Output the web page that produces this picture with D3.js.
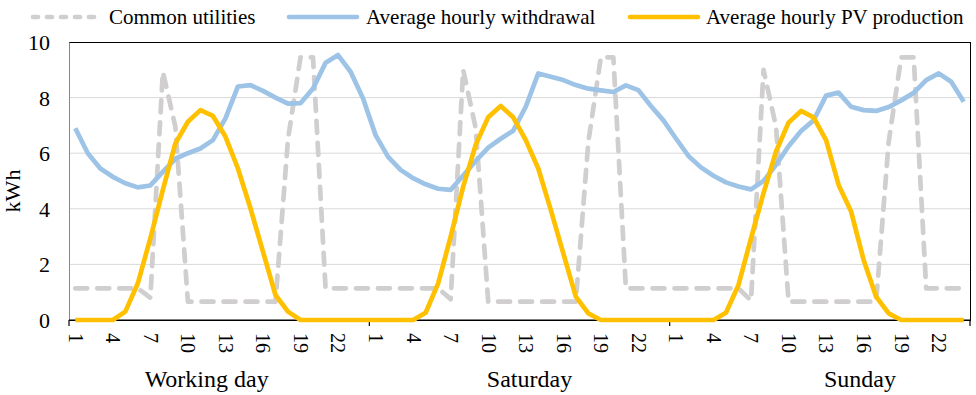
<!DOCTYPE html>
<html>
<head>
<meta charset="utf-8">
<script src="https://cdn.jsdelivr.net/npm/d3@7"></script>
<style>
  body { margin: 0; background: #fff; }
  svg { display: block; }
  text { font-family: "Liberation Serif", "Times New Roman", serif; fill: #000; }
</style>
</head>
<body>
<div id="chart"></div>
<script>
// categories
const days = ['Working day', 'Saturday', 'Sunday'];
const hours = [1, 2, 3, 4, 5, 6, 7, 8, 9, 10, 11, 12, 13, 14, 15, 16, 17, 18, 19, 20, 21, 22, 23, 24];
const tickHours = [1, 4, 7, 10, 13, 16, 19, 22];
const yTicks = [0, 2, 4, 6, 8, 10];

// series values (kWh), 24 per day
const commonUtilities = [
    1.14, 1.14, 1.14, 1.14, 1.14, 1.14, 0.8, 8.93, 6.95, 0.66, 0.66, 0.66,
    0.66, 0.66, 0.66, 0.66, 0.66, 6.5, 9.45, 9.45, 1.14, 1.14, 1.14, 1.14,
    1.14, 1.14, 1.14, 1.14, 1.14, 1.14, 0.75, 9.0, 6.9, 0.66, 0.66, 0.66,
    0.66, 0.66, 0.66, 0.66, 0.66, 6.4, 9.45, 9.45, 1.14, 1.14, 1.14, 1.14,
    1.14, 1.14, 1.14, 1.14, 1.14, 1.14, 0.7, 9.0, 6.95, 0.66, 0.66, 0.66,
    0.66, 0.66, 0.66, 0.66, 0.66, 6.4, 9.45, 9.45, 1.14, 1.14, 1.14, 1.14
];
const withdrawal = [
    6.9, 6.0, 5.45, 5.15, 4.92, 4.77, 4.84, 5.33, 5.8, 6.0, 6.17, 6.47,
    7.25, 8.4, 8.45, 8.24, 8.0, 7.78, 7.8, 8.33, 9.25, 9.53, 8.93, 7.97,
    6.65, 5.87, 5.4, 5.1, 4.88, 4.72, 4.68, 5.2, 5.72, 6.2, 6.52, 6.81,
    7.67, 8.87, 8.75, 8.63, 8.45, 8.32, 8.26, 8.2, 8.44, 8.27, 7.7, 7.18,
    6.53, 5.9, 5.49, 5.19, 4.95, 4.8, 4.7, 5.0, 5.58, 6.25, 6.8, 7.18,
    8.07, 8.18, 7.67, 7.55, 7.52, 7.66, 7.9, 8.17, 8.63, 8.87, 8.57, 7.85
];
const pvProduction = [
    0, 0, 0, 0, 0.3, 1.32, 2.94, 4.68, 6.35, 7.13, 7.55, 7.34,
    6.6, 5.45, 4.02, 2.46, 0.9, 0.3, 0, 0, 0, 0, 0, 0,
    0, 0, 0, 0, 0.26, 1.32, 3.0, 4.8, 6.3, 7.29, 7.7, 7.29,
    6.47, 5.45, 3.96, 2.4, 0.84, 0.24, 0, 0, 0, 0, 0, 0,
    0, 0, 0, 0, 0.26, 1.26, 2.94, 4.56, 6.06, 7.1, 7.52, 7.29,
    6.47, 4.86, 3.9, 2.16, 0.84, 0.24, 0, 0, 0, 0, 0, 0
];

const width = 976, height = 395;
const margin = { top: 42, right: 6, bottom: 75, left: 69 };
const plotW = width - margin.left - margin.right;
const plotH = height - margin.top - margin.bottom;

// shift of the day names along the axis, in hours
const dayLabelShift = [-1, 0.8, 3.2];

const categories = [];
days.forEach(function(day) {
    hours.forEach(function(h) { categories.push(day + '|' + h); });
});

const series = [
    { name: 'Common utilities', values: commonUtilities, color: '#D0CECE', dash: '12 10' },
    { name: 'Average hourly withdrawal', values: withdrawal, color: '#9DC3E6', dash: null },
    { name: 'Average hourly PV production', values: pvProduction, color: '#FFC000', dash: null }
];

const svg = d3.select('#chart')
    .append('svg')
    .attr('width', width)
    .attr('height', height);

const g = svg.append('g')
    .attr('transform', 'translate(' + margin.left + ',' + margin.top + ')');

const x = d3.scaleBand()
    .domain(categories)
    .range([0, plotW]);

const y = d3.scaleLinear()
    .domain([0, 10])
    .range([plotH, 0]);

// gridlines
g.selectAll('.grid')
    .data(yTicks.filter(function(t) { return t > 0 && t < 10; }))
    .enter()
    .append('line')
    .attr('x1', 0)
    .attr('x2', plotW)
    .attr('y1', function(d) { return y(d); })
    .attr('y2', function(d) { return y(d); })
    .attr('stroke', '#D9D9D9')
    .attr('stroke-width', 1);

// plot border
g.append('rect')
    .attr('x', 0.5)
    .attr('y', 0.5)
    .attr('width', plotW)
    .attr('height', plotH)
    .attr('fill', 'none')
    .attr('stroke', '#000')
    .attr('stroke-width', 1);

// y axis
const yAxis = g.append('g')
    .call(d3.axisLeft(y).tickValues(yTicks).tickSize(0).tickPadding(19));
yAxis.select('.domain').attr('stroke', '#868686');
yAxis.selectAll('text')
    .attr('font-size', '22px')
    .attr('dy', '0.34em');

svg.append('text')
    .attr('transform', 'translate(20,' + (margin.top + plotH / 2 + 10) + ') rotate(-90)')
    .attr('text-anchor', 'middle')
    .attr('font-size', '22px')
    .text('kWh');

// x axis: hour labels, day boundary ticks, day names
const xAxis = g.append('g')
    .attr('transform', 'translate(0,' + plotH + ')');

xAxis.append('line')
    .attr('x1', 0)
    .attr('x2', plotW)
    .attr('stroke', '#000')
    .attr('stroke-width', 1.2);

const boundaries = [0].concat(days.map(function(day) {
    return x(day + '|' + hours[hours.length - 1]) + x.bandwidth();
}));
xAxis.selectAll('.dtick')
    .data(boundaries)
    .enter()
    .append('line')
    .attr('x1', function(d) { return d; })
    .attr('x2', function(d) { return d; })
    .attr('y1', 0)
    .attr('y2', 6)
    .attr('stroke', '#000')
    .attr('stroke-width', 1.2);

days.forEach(function(day, di) {
    tickHours.forEach(function(h) {
        const cx = x(day + '|' + h) + x.bandwidth() / 2;
        xAxis.append('text')
            .attr('transform', 'translate(' + cx + ',13) rotate(90)')
            .attr('dy', '0.33em')
            .attr('text-anchor', 'start')
            .attr('font-size', '20px')
            .text(h);
    });
    const mid = x(day + '|' + hours[11]) + x.bandwidth() + dayLabelShift[di] * x.bandwidth();
    xAxis.append('text')
        .attr('x', mid)
        .attr('y', 67)
        .attr('text-anchor', 'middle')
        .attr('font-size', '24px')
        .text(day);
});

// lines
const line = d3.line()
    .x(function(d, i) { return x(categories[i]) + x.bandwidth() / 2; })
    .y(function(d) { return y(d); });

series.forEach(function(s) {
    g.append('path')
        .datum(s.values)
        .attr('d', line)
        .attr('fill', 'none')
        .attr('stroke', s.color)
        .attr('stroke-width', 4.7)
        .attr('stroke-linejoin', 'round')
        .attr('stroke-linecap', s.dash ? 'round' : 'butt')
        .attr('stroke-dasharray', s.dash);
});

// legend
const legendItems = [
    { lineX: 31, textX: 109 },
    { lineX: 287, textX: 366 },
    { lineX: 628, textX: 706 }
];
series.forEach(function(s, i) {
    const item = legendItems[i];
    svg.append('line')
        .attr('x1', item.lineX + 2)
        .attr('x2', item.lineX + 70)
        .attr('y1', 17)
        .attr('y2', 17)
        .attr('stroke', s.color)
        .attr('stroke-width', 4.7)
        .attr('stroke-linecap', 'round')
        .attr('stroke-dasharray', s.dash ? '5 9' : null);
    svg.append('text')
        .attr('x', item.textX)
        .attr('y', 24)
        .attr('font-size', '21px')
        .text(s.name);
});
</script>
</body>
</html>
